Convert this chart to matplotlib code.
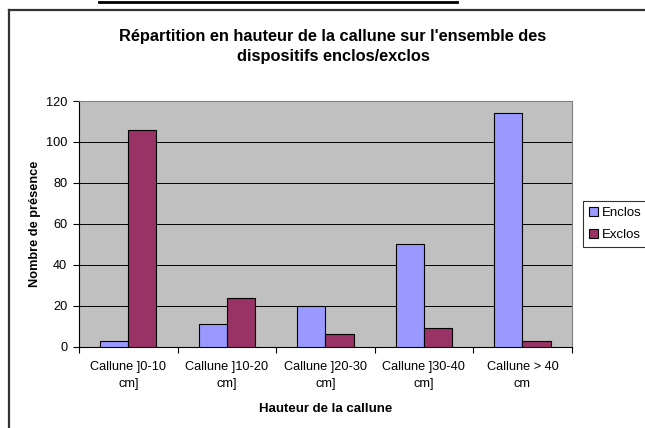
import numpy as np
import matplotlib
matplotlib.use("Agg")
import matplotlib.pyplot as plt
from matplotlib.lines import Line2D

plt.rcParams['font.family'] = ['Liberation Sans', 'DejaVu Sans']

categories = ["Callune ]0-10\ncm]", "Callune ]10-20\ncm]", "Callune ]20-30\ncm]",
              "Callune ]30-40\ncm]", "Callune > 40\ncm"]
enclos = [3, 11, 20, 50, 114]
exclos = [106, 24, 6, 9, 3]
series_names = ["Enclos", "Exclos"]
yticks = [0, 20, 40, 60, 80, 100, 120]

fig = plt.figure(figsize=(6.45, 4.28), dpi=100)
W, H = 645.0, 428.0

# frame of the chart object (only left and top edges visible)
fig.add_artist(Line2D([8.5 / W, 8.5 / W], [0, 1 - 10 / H], color='#333333', lw=1.6,
                      transform=fig.transFigure))
fig.add_artist(Line2D([8.5 / W, 1], [1 - 10 / H, 1 - 10 / H], color='#333333', lw=1.6,
                      transform=fig.transFigure))
# underline of text above the chart, cut off
fig.add_artist(Line2D([99 / W, 457 / W], [1 - 2 / H, 1 - 2 / H], color='black', lw=2.0,
                      transform=fig.transFigure))

ax = fig.add_axes([79 / W, 1 - 346.7 / H, (571.7 - 79) / W, (346.7 - 101) / H])
ax.set_facecolor('#C0C0C0')

x = np.arange(len(categories))
w = 0.286
ax.bar(x - w / 2, enclos, w, color='#9999FF', edgecolor='black', linewidth=0.8,
       label=series_names[0], zorder=3)
ax.bar(x + w / 2, exclos, w, color='#993366', edgecolor='black', linewidth=0.8,
       label=series_names[1], zorder=3)

ax.set_xlim(-0.5, len(categories) - 0.5)
ax.set_ylim(0, 120)
ax.set_yticks(yticks)
ax.yaxis.grid(True, color='black', linewidth=0.7, zorder=1)
ax.set_axisbelow(True)

ax.set_xticks(x)
ax.set_xticklabels(categories, fontsize=9.2, linespacing=1.65)
ax.set_xticks(np.arange(len(categories) + 1) - 0.5, minor=True)
ax.tick_params(axis='x', which='major', length=0, pad=10)
ax.tick_params(axis='x', which='minor', length=4, width=0.8, direction='out')
ax.tick_params(axis='y', length=4, width=0.8, labelsize=9.2, pad=4.5)

for s in ['top', 'right']:
    ax.spines[s].set_color('#808080')
    ax.spines[s].set_linewidth(0.8)
for s in ['left', 'bottom']:
    ax.spines[s].set_color('black')
    ax.spines[s].set_linewidth(0.8)

ax.set_ylabel("Nombre de présence", fontsize=9.2, fontweight='bold', labelpad=3.5)
ax.set_xlabel("Hauteur de la callune", fontsize=9.5, fontweight='bold', labelpad=9)

fig.text(333 / W, 1 - 46.5 / H, "Répartition en hauteur de la callune sur l'ensemble des\n"
         "dispositifs enclos/exclos", ha='center', va='center', fontsize=11.8,
         fontweight='bold', linespacing=1.5)

leg = ax.legend(loc='upper left', bbox_to_anchor=(583 / W, 1 - 201 / H),
                bbox_transform=fig.transFigure, fontsize=9.5, frameon=True,
                fancybox=False, edgecolor='black', handlelength=0.7, handleheight=0.7,
                handletextpad=0.3, borderpad=0.45, labelspacing=0.75, borderaxespad=0)
leg.get_frame().set_linewidth(0.8)

fig.savefig("out.png", dpi=100)
